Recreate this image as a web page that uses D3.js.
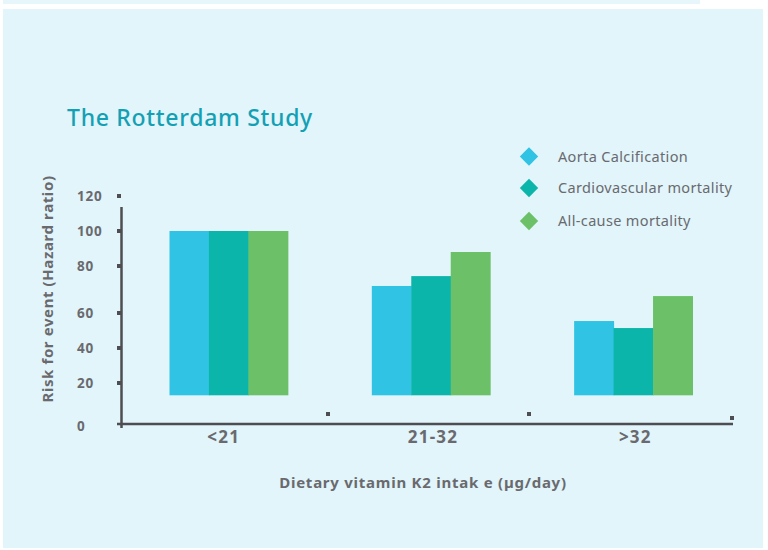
<!DOCTYPE html>
<html>
<head>
<meta charset="utf-8">
<script src="https://cdn.jsdelivr.net/npm/d3@7"></script>
<style>
  html, body { margin: 0; padding: 0; background: #ffffff; }
  svg { display: block; }
</style>
</head>
<body>
<svg id="chart" width="768" height="550"></svg>
<script>
// ---- data ----
const categories = ["<21", "21-32", ">32"];
const seriesNames = ["Aorta Calcification", "Cardiovascular mortality", "All-cause mortality"];
const aortaCalcification = [100, 71.5, 55.4];
const cardiovascularMortality = [100, 75.7, 51.4];
const allCauseMortality = [100, 88, 67.2];
const yTickValues = [0, 20, 40, 60, 80, 100, 120];
const yTickLabels = ["0", "20", "40", "60", "80", "100", "120"];
const barFloor = 14;
const titleText = "The Rotterdam Study";
const yAxisTitle = "Risk for event (Hazard ratio)";
const xAxisTitle = "Dietary vitamin K2 intak e (µg/day)";

const seriesValues = [aortaCalcification, cardiovascularMortality, allCauseMortality];
const colors = ["#30c3e3", "#0cb5a9", "#6cc168"];

const svg = d3.select("#chart");
const font = "'Noto Sans', 'DejaVu Sans', sans-serif";
const textGray = "#6a6a6e";
const axisColor = "#4d4d52";

// background panels
svg.append("rect").attr("x", 3).attr("y", 0).attr("width", 697).attr("height", 4).attr("fill", "#e6f6fb");
svg.append("rect").attr("x", 3).attr("y", 9).attr("width", 760).attr("height", 539).attr("fill", "#e1f5fb");

// scales (the original axis has uneven tick spacing -> piecewise linear)
const y = d3.scaleLinear()
  .domain(yTickValues)
  .range([424, 383, 348, 313, 266, 231, 196]);

const x0 = d3.scaleBand()
  .domain(categories)
  .range([125, 737])
  .paddingInner(0.415)
  .paddingOuter(0.22);

const x1 = d3.scaleBand()
  .domain(seriesNames)
  .range([0, x0.bandwidth()]);

// title
svg.append("text")
  .attr("x", 67).attr("y", 126)
  .attr("font-family", font)
  .attr("font-size", 23)
  .attr("font-weight", 500)
  .attr("fill", "#14a0b4")
  .attr("letter-spacing", 0.7)
  .text(titleText);

// bars
const groups = svg.append("g").selectAll("g")
  .data(categories)
  .join("g")
  .attr("transform", d => `translate(${x0(d)},0)`);

groups.selectAll("rect")
  .data((c, i) => seriesNames.map((s, j) => ({ s, j, v: seriesValues[j][i] })))
  .join("rect")
  .attr("x", d => x1(d.s))
  .attr("width", x1.bandwidth() + 0.5)
  .attr("y", d => y(d.v))
  .attr("height", d => y(barFloor) - y(d.v))
  .attr("fill", d => colors[d.j]);

// y axis line
svg.append("line")
  .attr("x1", 121.5).attr("x2", 121.5)
  .attr("y1", 207).attr("y2", 428)
  .attr("stroke", axisColor).attr("stroke-width", 2.5);

// x axis line
svg.append("line")
  .attr("x1", 117).attr("x2", 733)
  .attr("y1", y(0)).attr("y2", y(0))
  .attr("stroke", axisColor).attr("stroke-width", 2.5);

// y ticks (small squares) and labels
const yTicks = svg.append("g");
yTicks.selectAll("rect")
  .data(yTickValues.filter(v => v > 0))
  .join("rect")
  .attr("x", 117).attr("y", d => y(d) - 2)
  .attr("width", 4).attr("height", 4)
  .attr("fill", axisColor);
yTicks.selectAll("text")
  .data(yTickValues)
  .join("text")
  .attr("x", 77)
  .attr("y", d => y(d) + (d === 0 ? 2 : 0))
  .attr("dy", "0.36em")
  .attr("font-family", font)
  .attr("font-size", 13.5)
  .attr("font-weight", 700)
  .attr("letter-spacing", 0.8)
  .attr("fill", textGray)
  .text((d, i) => yTickLabels[i]);

// x ticks (small squares between the groups and at the axis end)
const tickXs = [328, 529, 732];
svg.append("g").selectAll("rect")
  .data(tickXs)
  .join("rect")
  .attr("x", d => d - 2)
  .attr("y", (d, i) => i === 2 ? 416 : 412)
  .attr("width", 4).attr("height", 4)
  .attr("fill", axisColor);

// x labels
const labelShift = [-5, 2, 2];
svg.append("g").selectAll("text")
  .data(categories)
  .join("text")
  .attr("x", (d, i) => x0(d) + x0.bandwidth() / 2 + labelShift[i])
  .attr("y", 443)
  .attr("text-anchor", "middle")
  .attr("font-family", font)
  .attr("font-size", 17)
  .attr("font-weight", 700)
  .attr("letter-spacing", 1.2)
  .attr("fill", textGray)
  .text(d => d);

// axis titles
svg.append("text")
  .attr("x", 423).attr("y", 488)
  .attr("text-anchor", "middle")
  .attr("font-family", font)
  .attr("font-size", 15)
  .attr("font-weight", 700)
  .attr("letter-spacing", 0.75)
  .attr("fill", textGray)
  .text(xAxisTitle);

svg.append("text")
  .attr("transform", "translate(53,289) rotate(-90)")
  .attr("text-anchor", "middle")
  .attr("font-family", font)
  .attr("font-size", 15)
  .attr("font-weight", 700)
  .attr("letter-spacing", 0.6)
  .attr("fill", textGray)
  .text(yAxisTitle);

// legend
const legend = svg.append("g").selectAll("g")
  .data(seriesNames)
  .join("g")
  .attr("transform", (d, i) => `translate(529,${[156.5, 188, 221][i]})`);
legend.append("rect")
  .attr("x", -6.5).attr("y", -6.5)
  .attr("width", 13).attr("height", 13)
  .attr("transform", "rotate(45)")
  .attr("fill", (d, i) => colors[i]);
legend.append("text")
  .attr("x", 29).attr("dy", "0.35em")
  .attr("font-family", font)
  .attr("font-size", 14.5)
  .attr("font-weight", 400)
  .attr("letter-spacing", 0.35)
  .attr("fill", textGray)
  .text(d => d);
</script>
</body>
</html>
